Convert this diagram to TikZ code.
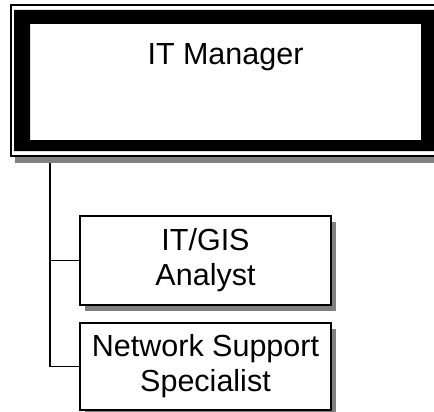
\documentclass[tikz,border=0pt]{standalone}
\usepackage{fontspec}
\setmainfont{Liberation Sans}
\usetikzlibrary{shadows,backgrounds}
\begin{document}
\begin{tikzpicture}[x=1pt,y=-1pt,
  boxshadow/.style={general shadow={fill=black!50, shadow xshift=#1, shadow yshift=-6pt}},
  headbox/.style={draw, line width=2pt, fill=white, inner sep=0pt, anchor=north west,
    general shadow={fill=black!50, shadow xshift=4pt, shadow yshift=-7.5pt}},
  postbox/.style={draw, line width=1.6pt, fill=white, inner sep=0pt, align=center,
    font=\fontsize{30.5}{35}\selectfont, boxshadow=5pt},
  conn/.style={line width=1.6pt},
]
\useasboundingbox (0,0) rectangle (434,412);

% head of the unit: double frame with a heavy inner band
\node[headbox, minimum width=450pt, minimum height=150.5pt] (mgr) at (10,4) {};
\fill[even odd rule] (14,10) rectangle (470,151) (30,24) rectangle (421,140);
\node[anchor=base, inner sep=0pt, font=\fontsize{30.5}{36}\selectfont] (title) at (225.5,65) {IT Manager};

% staff positions
\node[postbox, minimum width=251pt, minimum height=89pt] (gis) at (205.5,260.5) {IT/GIS\\Analyst};
\node[postbox, minimum width=251pt, minimum height=87pt] (ns) at (205.5,366.5) {Network Support\\Specialist};

% reporting lines
\begin{pgfonlayer}{background}
\draw[conn] ([xshift=40pt]mgr.south west) |- (ns.west);
\draw[conn] ([xshift=40pt]mgr.south west |- gis.west) -- (gis.west);
\end{pgfonlayer}
\end{tikzpicture}
\end{document}
